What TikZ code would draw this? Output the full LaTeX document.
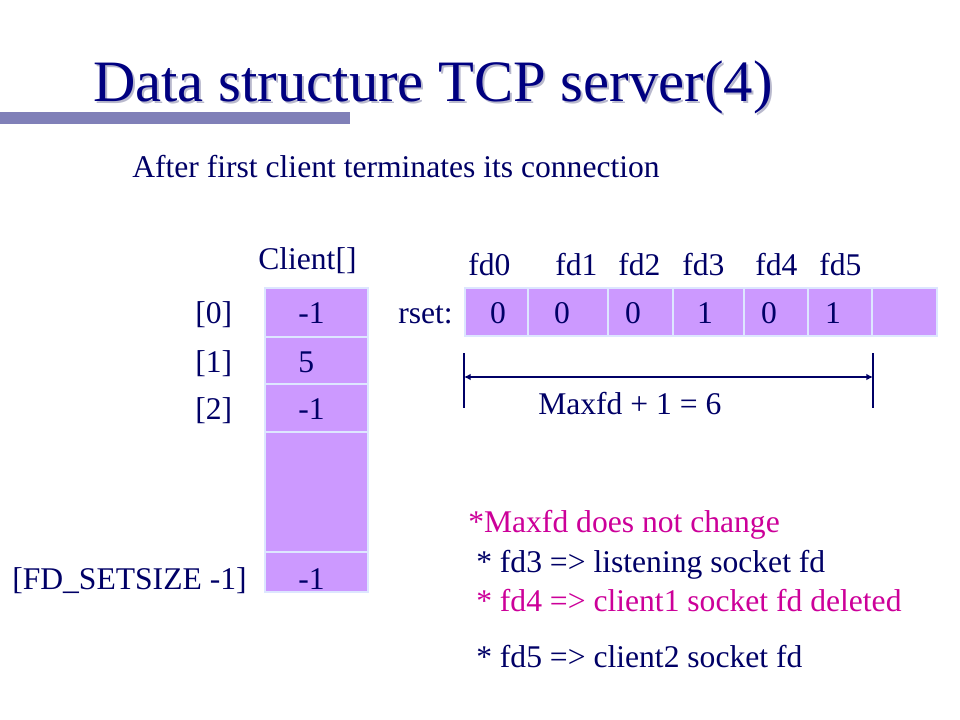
\documentclass[tikz,border=0pt]{standalone}
\usepackage{fontspec}
\setmainfont{Liberation Serif}
\usetikzlibrary{arrows.meta}
\definecolor{navy}{RGB}{0,0,102}
\definecolor{titlenavy}{RGB}{0,0,128}
\definecolor{shadowgray}{RGB}{185,185,205}
\definecolor{titlebar}{RGB}{128,128,184}
\definecolor{hotpink}{RGB}{204,0,153}
\definecolor{cellfill}{RGB}{204,153,255}
\definecolor{cellline}{RGB}{221,230,255}

\begin{document}
\begin{tikzpicture}[x=0.75pt,y=-0.75pt,
  txt/.style={inner sep=0pt,text=navy,font=\fontsize{23.7}{28}\selectfont},
  pink/.style={txt,text=hotpink},
  cell/.style={draw=cellline,fill=cellfill,line width=0.8pt},
  dimline/.style={draw=navy,line width=1pt}]
\useasboundingbox (0,0) rectangle (960,720);

% title and bar
\fill[titlebar] (0,112) rectangle (350,124);
\node[anchor=base west,inner sep=0pt,text=shadowgray,font=\fontsize{44}{50}\selectfont] (titleshadow) at (95,104) {Data structure TCP server(4)};
\node[anchor=base west,inner sep=0pt,text=titlenavy,font=\fontsize{44}{50}\selectfont] (title) at (93,102) {Data structure TCP server(4)};
\node[txt,anchor=base west] (after) at (132,178) {After first client terminates its connection};

% Client[] array
\node[txt,anchor=base west] (client) at (258,270) {Client[]};
\foreach \top/\bot in {288/337,337/384,384/432,432/552,552/592}
  \draw[cell] (265,\top) rectangle (368,\bot);
\foreach \y/\v/\n in {324/-1/0,372/5/1,419/-1/2,589/-1/last}
  \node[txt,anchor=base west] (cv\n) at (298,\y) {\v};
\foreach \y/\i in {324/0,372/1,419/2}
  \node[txt,anchor=base west] (idx\i) at (195,\y) {[\i]};
\node[txt,anchor=base west] (idxlast) at (12,589) {[FD\_SETSIZE -1]};

% rset
\node[txt,anchor=base east] (rset) at (453,324) {rset:};
\foreach \l/\r in {465/528,528/608,608/673,673/744,744/808,808/872,872/937}
  \draw[cell] (\l,288) rectangle (\r,336);
\foreach \x/\v/\n in {498/0/0,562/0/1,633/0/2,705/1/3,769/0/4,833/1/5}
  \node[txt,anchor=base] (bit\n) at (\x,324) {\v};
\foreach \x/\n in {468/0,555/1,618/2,682/3,755/4,819/5}
  \node[txt,anchor=base west] (fd\n) at (\x,276) {fd\n};

% Maxfd span
\coordinate (dimL) at (464,377);
\coordinate (dimR) at (873,377);
\draw[dimline] (464,353) -- (464,408);
\draw[dimline] (873,353) -- (873,408);
\draw[dimline,{Latex[length=5pt,width=5pt]}-{Latex[length=5pt,width=5pt]}] (dimL) -- (dimR);
\node[txt,anchor=base west] (maxfd) at (538,414) {Maxfd + 1 = 6};

% notes
\node[pink,anchor=base west] (note0) at (468,532) {*Maxfd does not change};
\node[txt,anchor=base west] (note1) at (476,572) {* fd3 => listening socket fd};
\node[pink,anchor=base west] (note2) at (476,611) {* fd4 => client1 socket fd deleted};
\node[txt,anchor=base west] (note3) at (476,667) {* fd5 => client2 socket fd};
\end{tikzpicture}
\end{document}
